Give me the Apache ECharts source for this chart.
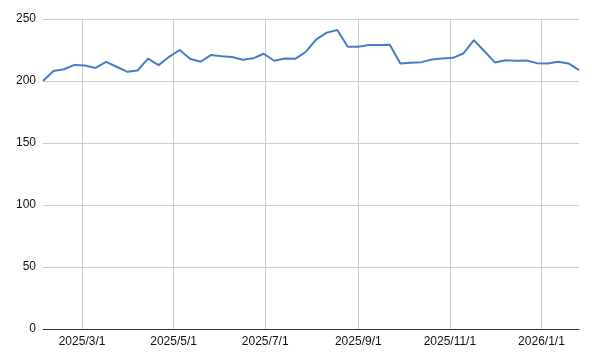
<!DOCTYPE html>
<html>
<head>
<meta charset="utf-8">
<script src="https://cdn.jsdelivr.net/npm/echarts@6/dist/echarts.min.js"></script>
<style>html,body{margin:0;padding:0;background:#fff}#c{width:592px;height:354px}</style>
</head>
<body>
<div id="c"></div>
<script>
const startDate = '2025-02-03';
const endDate = '2026-01-26';
const values = [200, 208, 209.5, 213, 212.5, 210.5, 215.5, 211.5, 207.5, 208.5,
  218, 212.8, 219.5, 225, 218, 215.5, 221, 220, 219.3, 217.2,
  218.3, 222, 216.3, 218.2, 217.9, 223.5, 233.5, 239, 241.1, 227.6,
  227.6, 229, 229, 229.2, 214.2, 214.7, 215.2, 217.4, 218.2, 218.7,
  222.2, 233, 224, 215, 216.8, 216.3, 216.6, 214.4, 214.2, 215.5,
  214.2, 208.7];
const xTicks = ['2025-03-01', '2025-05-01', '2025-07-01', '2025-09-01', '2025-11-01', '2026-01-01'];
const yTicks = [0, 50, 100, 150, 200, 250];

function ts(s) { const p = s.split('-'); return Date.UTC(+p[0], +p[1] - 1, +p[2]); }
const DAY = 86400000;
const t0 = ts(startDate);
const data = values.map((v, i) => [t0 + i * 7 * DAY, v]);
const tickTs = xTicks.map(ts);

const chart = echarts.init(document.getElementById('c'));
chart.setOption({
  animation: false,
  grid: { left: 43, right: 13, top: 19, bottom: 25, containLabel: false },
  xAxis: {
    type: 'value',
    min: ts(startDate),
    max: ts(endDate),
    axisLine: { show: true, onZero: false, lineStyle: { color: '#333', width: 1 } },
    axisTick: { show: false, customValues: tickTs },
    axisLabel: {
      customValues: tickTs,
      color: '#111',
      fontFamily: '"Liberation Sans", Arial, sans-serif',
      fontSize: 12,
      margin: 7,
      hideOverlap: false,
      showMinLabel: true,
      showMaxLabel: true,
      formatter: function (v) {
        const d = new Date(v);
        return d.getUTCFullYear() + '/' + (d.getUTCMonth() + 1) + '/' + d.getUTCDate();
      }
    },
    splitLine: { show: true, lineStyle: { color: '#cccccc', width: 1 } }
  },
  yAxis: {
    type: 'value',
    min: yTicks[0],
    max: yTicks[yTicks.length - 1],
    interval: 50,
    axisLine: { show: false },
    axisTick: { show: false },
    axisLabel: {
      color: '#111',
      fontFamily: '"Liberation Sans", Arial, sans-serif',
      fontSize: 12,
      margin: 7
    },
    splitLine: { show: true, lineStyle: { color: '#cccccc', width: 1 } }
  },
  series: [{
    type: 'line',
    data: data,
    showSymbol: false,
    symbol: 'none',
    lineStyle: { color: '#4a7cc6', width: 2 },
    itemStyle: { color: '#4a7cc6' }
  }]
});
</script>
</body>
</html>
